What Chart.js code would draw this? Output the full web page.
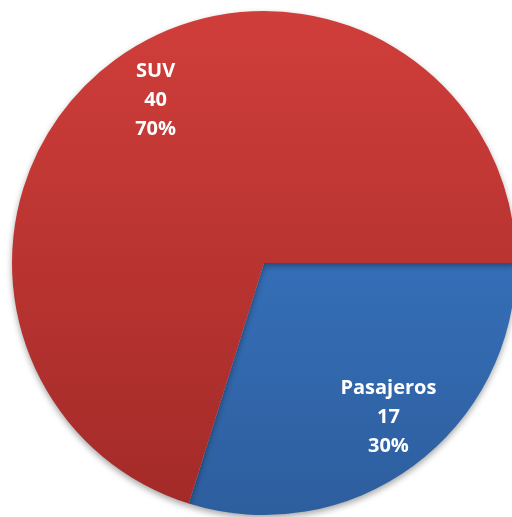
<!DOCTYPE html>
<html>
<head>
<meta charset="utf-8">
<script src="https://cdn.jsdelivr.net/npm/chart.js@4.4.1/dist/chart.umd.min.js"></script>
<style>
    html, body { margin: 0; padding: 0; background: #fff; overflow: hidden; }
    #wrap { width: 528px; height: 517px; }
</style>
</head>
<body>
<div id="wrap"><canvas id="pieChart"></canvas></div>
<script>
// --- Data ---
const categories = ['Pasajeros', 'SUV'];
const values = [17, 40];
const topColors = ['#3d7fcf', '#d03e3a'];
const bottomColors = ['#2d5e9e', '#a22a28'];

// vertical gradient across the whole pie
function sliceGradient(context) {
    const chart = context.chart;
    const area = chart.chartArea;
    if (!area) return topColors[context.dataIndex];
    const g = chart.ctx.createLinearGradient(0, area.top, 0, area.bottom);
    g.addColorStop(0, topColors[context.dataIndex]);
    g.addColorStop(1, bottomColors[context.dataIndex]);
    return g;
}

// soft shadow under the pie
const shadowPlugin = {
    id: 'pieShadow',
    beforeDatasetsDraw(chart) {
        const ctx = chart.ctx;
        ctx.save();
        ctx.shadowColor = 'rgba(0,0,0,0.35)';
        ctx.shadowBlur = 6;
        ctx.shadowOffsetY = 3;
    },
    afterDatasetsDraw(chart) {
        chart.ctx.restore();
    }
};

// category / value / percent labels inside each slice
const sliceLabels = {
    id: 'sliceLabels',
    afterDraw(chart) {
        const ctx = chart.ctx;
        const total = values.reduce((a, b) => a + b, 0);
        const meta = chart.getDatasetMeta(0);
        ctx.save();
        ctx.fillStyle = '#ffffff';
        ctx.font = 'bold 20px "Open Sans", sans-serif';
        ctx.textAlign = 'center';
        ctx.textBaseline = 'middle';
        meta.data.forEach((arc, i) => {
            const mid = (arc.startAngle + arc.endAngle) / 2;
            const r = arc.outerRadius * 0.78;
            const x = arc.x + Math.cos(mid) * r + 8;
            const y = arc.y + Math.sin(mid) * r - 4;
            const pct = Math.round(values[i] / total * 100) + '%';
            const lines = [categories[i], String(values[i]), pct];
            lines.forEach((t, k) => {
                ctx.fillText(t, x, y + (k - 1) * 29);
            });
        });
        ctx.restore();
    }
};

new Chart(document.getElementById('pieChart'), {
    type: 'pie',
    data: {
        labels: categories,
        datasets: [{
            data: values,
            backgroundColor: sliceGradient,
            borderWidth: 0
        }]
    },
    options: {
        responsive: true,
        maintainAspectRatio: false,
        animation: false,
        rotation: 90,
        layout: { padding: { left: 12, right: 12, top: 11, bottom: 2 } },
        plugins: {
            legend: { display: false },
            tooltip: { enabled: false }
        }
    },
    plugins: [shadowPlugin, sliceLabels]
});
</script>
</body>
</html>
